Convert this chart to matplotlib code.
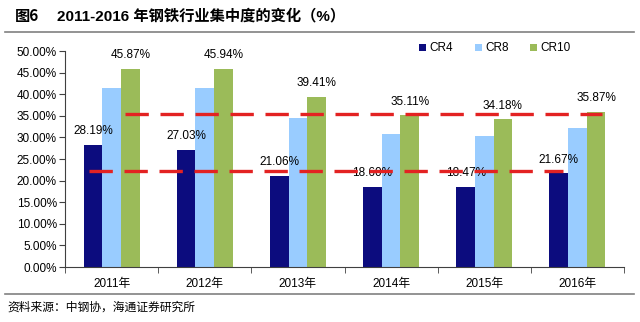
import matplotlib
matplotlib.use("Agg")
import matplotlib.pyplot as plt
import numpy as np

plt.rcParams["font.family"] = ["Liberation Sans", "Noto Sans CJK SC", "DejaVu Sans"]

years = ["2011年", "2012年", "2013年", "2014年", "2015年", "2016年"]
cr4 = [28.19, 27.03, 21.06, 18.60, 18.47, 21.67]
cr8 = [41.4, 41.5, 34.6, 30.9, 30.3, 32.2]
cr10 = [45.87, 45.94, 39.41, 35.11, 34.18, 35.87]

# dashed reference lines: (x start, x end, level)
upper_line = (0.14, 5.26, 35.4)
lower_line = (-0.24, 4.84, 22.3)

colors = {"CR4": "#0c0c7e", "CR8": "#99ccff", "CR10": "#9bbb59"}

fig = plt.figure(figsize=(6.4, 3.22), dpi=100)
ax = fig.add_axes([0.1016, 0.1708, 0.8734, 0.6708])

x = np.arange(len(years))
w = 0.2
ax.bar(x - w, cr4, w, color=colors["CR4"], label="CR4")
ax.bar(x, cr8, w, color=colors["CR8"], label="CR8")
ax.bar(x + w, cr10, w, color=colors["CR10"], label="CR10")

for xi, v in zip(x, cr4):
    ax.text(xi - w, v + 1.8, f"{v:.2f}%", ha="center", va="bottom", fontsize=8.5)
for xi, v in zip(x, cr10):
    ax.text(xi + w, v + 1.8, f"{v:.2f}%", ha="center", va="bottom", fontsize=8.5)

for x0, x1, lvl in (upper_line, lower_line):
    ax.plot([x0, x1], [lvl, lvl], color="#e32222", lw=2.4,
            dashes=(7, 3.5), zorder=5)

ax.set_xlim(-0.5, len(years) - 0.5)
ax.set_ylim(0, 50)
ax.set_yticks(np.arange(0, 50.1, 5))
ax.set_yticklabels([f"{v:.2f}%" for v in np.arange(0, 50.1, 5)], fontsize=8.5)
ax.set_xticks(x)
ax.set_xticklabels(years, fontsize=8.5,
                   fontfamily=["Liberation Sans", "Noto Sans CJK SC"])
ax.set_xticks(np.arange(-0.5, len(years)), minor=True)
ax.tick_params(axis="x", which="major", length=0, pad=8)
ax.tick_params(axis="x", which="minor", length=4, direction="out", color="#404040")
ax.tick_params(axis="y", length=4, direction="out", color="#404040", pad=2)
for s in ("top", "right"):
    ax.spines[s].set_visible(False)
for s in ("left", "bottom"):
    ax.spines[s].set_color("#404040")
    ax.spines[s].set_linewidth(0.8)

ax.legend(loc="center right", bbox_to_anchor=(0.905, 1.012), ncol=3, frameon=False,
          fontsize=8.5, handlelength=0.6, handleheight=0.6, handletextpad=0.3,
          columnspacing=1.8, borderpad=0, borderaxespad=0)

fig.text(0.023, 0.95, "图6", fontsize=11, fontweight="bold", va="center",
         fontfamily=["Noto Sans CJK SC"])
fig.text(0.089, 0.95, "2011-2016 年钢铁行业集中度的变化（%）", fontsize=11,
         fontweight="bold", va="center",
         fontfamily=["Liberation Sans", "Noto Sans CJK SC"])
fig.add_artist(plt.Line2D([0.008, 0.99], [0.9, 0.9], color="#808080", lw=1.2))
fig.add_artist(plt.Line2D([0.008, 0.99], [0.088, 0.088], color="#808080", lw=1.2))
fig.text(0.012, 0.045, "资料来源：中钢协，海通证券研究所", fontsize=8.5,
         va="center", fontfamily=["Noto Sans CJK SC"])

fig.savefig("out.png", dpi=100)
